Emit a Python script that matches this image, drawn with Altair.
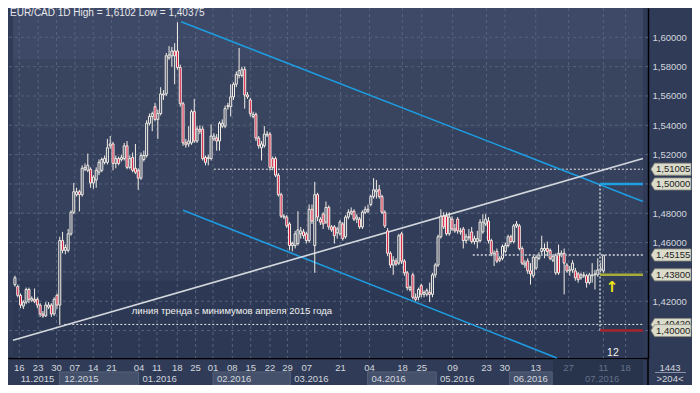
import altair as alt
import pandas as pd

# ---------------- data: EUR/CAD daily candles ----------------
opens = [
    1.4313, 1.4300, 1.4240, 1.4167, 1.4194, 1.4280, 1.4207, 1.4213, 1.4213, 1.4174,
    1.4113, 1.4100, 1.4160, 1.4174, 1.4113, 1.4240, 1.4174, 1.4614, 1.4547, 1.4547,
    1.4660, 1.4807, 1.4927, 1.4947, 1.4927, 1.5100, 1.5093, 1.5100, 1.5007, 1.5027,
    1.5080, 1.5093, 1.5147, 1.5147, 1.5260, 1.5273, 1.5140, 1.5173, 1.5167, 1.5173,
    1.5260, 1.5113, 1.5180, 1.5107, 1.5093, 1.5040, 1.5167, 1.5194, 1.5414, 1.5460,
    1.5527, 1.5440, 1.5480, 1.5607, 1.5614, 1.5860, 1.5874, 1.5907, 1.5907, 1.5794,
    1.5547, 1.5280, 1.5273, 1.5280, 1.5493, 1.5293, 1.5374, 1.5374, 1.5180, 1.5173,
    1.5173, 1.5307, 1.5313, 1.5293, 1.5394, 1.5394, 1.5527, 1.5527, 1.5594, 1.5680,
    1.5740, 1.5740, 1.5780, 1.5607, 1.5573, 1.5460, 1.5474, 1.5313, 1.5247, 1.5260,
    1.5334, 1.5340, 1.5173, 1.5173, 1.5060, 1.4927, 1.4774, 1.4774, 1.4727, 1.4580,
    1.4580, 1.4594, 1.4660, 1.4673, 1.4660, 1.4614, 1.4827, 1.4580, 1.4927, 1.4760,
    1.4794, 1.4740, 1.4840, 1.4707, 1.4707, 1.4667, 1.4660, 1.4727, 1.4640, 1.4774,
    1.4800, 1.4814, 1.4760, 1.4760, 1.4707, 1.4807, 1.4814, 1.4860, 1.4914, 1.4947,
    1.4960, 1.4914, 1.4807, 1.4680, 1.4527, 1.4447, 1.4474, 1.4460, 1.4660, 1.4474,
    1.4394, 1.4280, 1.4380, 1.4227, 1.4227, 1.4307, 1.4247, 1.4247, 1.4260, 1.4247,
    1.4380, 1.4447, 1.4640, 1.4780, 1.4780, 1.4660, 1.4760, 1.4693, 1.4760, 1.4680,
    1.4693, 1.4614, 1.4640, 1.4673, 1.4607, 1.4607, 1.4614, 1.4673, 1.4727, 1.4747,
    1.4614, 1.4514, 1.4540, 1.4480, 1.4493, 1.4540, 1.4580, 1.4640, 1.4607, 1.4714,
    1.4714, 1.4560, 1.4447, 1.4474, 1.4407, 1.4374, 1.4427, 1.4493, 1.4540, 1.4547,
    1.4560, 1.4547, 1.4480, 1.4394, 1.4527, 1.4514, 1.4527, 1.4447, 1.4407, 1.4414,
    1.4407, 1.4387, 1.4360, 1.4374, 1.4374, 1.4327, 1.4374, 1.4380, 1.4380, 1.4414,
    1.4407,
]
highs = [
    1.4374, 1.4313, 1.4253, 1.4207, 1.4293, 1.4293, 1.4233, 1.4287, 1.4227, 1.4187,
    1.4133, 1.4194, 1.4194, 1.4187, 1.4227, 1.4253, 1.4640, 1.4673, 1.4587, 1.4693,
    1.4820, 1.5007, 1.4974, 1.4960, 1.5127, 1.5140, 1.5207, 1.5113, 1.5060, 1.5113,
    1.5167, 1.5180, 1.5194, 1.5307, 1.5327, 1.5287, 1.5194, 1.5187, 1.5200, 1.5280,
    1.5293, 1.5194, 1.5214, 1.5273, 1.5107, 1.5214, 1.5227, 1.5434, 1.5480, 1.5493,
    1.5553, 1.5507, 1.5660, 1.5640, 1.5893, 1.5940, 1.5934, 1.5960, 1.6102, 1.5814,
    1.5560, 1.5307, 1.5394, 1.5507, 1.5580, 1.5394, 1.5400, 1.5394, 1.5194, 1.5200,
    1.5407, 1.5347, 1.5340, 1.5427, 1.5440, 1.5534, 1.5553, 1.5680, 1.5693, 1.5767,
    1.5927, 1.5800, 1.5800, 1.5627, 1.5587, 1.5493, 1.5487, 1.5327, 1.5293, 1.5394,
    1.5360, 1.5354, 1.5187, 1.5187, 1.5074, 1.4940, 1.4794, 1.4787, 1.4740, 1.4607,
    1.4680, 1.4814, 1.4707, 1.4693, 1.4673, 1.4860, 1.4860, 1.5014, 1.4940, 1.4774,
    1.4807, 1.4880, 1.4854, 1.4720, 1.4720, 1.4707, 1.4754, 1.4740, 1.4787, 1.4827,
    1.4840, 1.4827, 1.4794, 1.4774, 1.4820, 1.4847, 1.4860, 1.4927, 1.5040, 1.5027,
    1.4994, 1.4927, 1.4820, 1.4700, 1.4540, 1.4507, 1.4493, 1.4660, 1.4673, 1.4487,
    1.4407, 1.4307, 1.4394, 1.4253, 1.4293, 1.4320, 1.4274, 1.4287, 1.4327, 1.4394,
    1.4460, 1.4654, 1.4827, 1.4807, 1.4807, 1.4807, 1.4780, 1.4727, 1.4774, 1.4700,
    1.4707, 1.4660, 1.4693, 1.4707, 1.4647, 1.4680, 1.4760, 1.4794, 1.4794, 1.4774,
    1.4627, 1.4547, 1.4560, 1.4507, 1.4587, 1.4600, 1.4654, 1.4654, 1.4727, 1.4747,
    1.4727, 1.4574, 1.4480, 1.4493, 1.4460, 1.4514, 1.4514, 1.4534, 1.4647, 1.4594,
    1.4607, 1.4560, 1.4520, 1.4527, 1.4587, 1.4547, 1.4560, 1.4460, 1.4440, 1.4480,
    1.4427, 1.4400, 1.4394, 1.4400, 1.4387, 1.4394, 1.4460, 1.4414, 1.4493, 1.4460,
    1.4516,
]
lows = [
    1.4300, 1.4227, 1.4153, 1.4147, 1.4180, 1.4187, 1.4194, 1.4187, 1.4153, 1.4093,
    1.4087, 1.4093, 1.4147, 1.4093, 1.4100, 1.4147, 1.4038, 1.4527, 1.4520, 1.4533,
    1.4647, 1.4794, 1.4914, 1.4813, 1.4914, 1.5087, 1.5080, 1.4974, 1.4967, 1.4974,
    1.5060, 1.5080, 1.5133, 1.5133, 1.5240, 1.5093, 1.5107, 1.5127, 1.5153, 1.5160,
    1.5100, 1.5100, 1.5080, 1.5067, 1.4960, 1.5027, 1.5153, 1.5180, 1.5400, 1.5360,
    1.5427, 1.5307, 1.5467, 1.5573, 1.5600, 1.5847, 1.5800, 1.5680, 1.5780, 1.5527,
    1.5260, 1.5247, 1.5253, 1.5267, 1.5280, 1.5280, 1.5340, 1.5160, 1.5127, 1.5127,
    1.5160, 1.5293, 1.5227, 1.5227, 1.5380, 1.5380, 1.5507, 1.5460, 1.5573, 1.5660,
    1.5720, 1.5727, 1.5514, 1.5580, 1.5460, 1.5447, 1.5293, 1.5240, 1.5160, 1.5247,
    1.5320, 1.5093, 1.5093, 1.5047, 1.4914, 1.4767, 1.4760, 1.4700, 1.4547, 1.4540,
    1.4560, 1.4580, 1.4627, 1.4627, 1.4594, 1.4600, 1.4727, 1.4394, 1.4747, 1.4720,
    1.4693, 1.4727, 1.4687, 1.4673, 1.4594, 1.4627, 1.4647, 1.4614, 1.4627, 1.4760,
    1.4787, 1.4747, 1.4733, 1.4693, 1.4693, 1.4794, 1.4800, 1.4847, 1.4900, 1.4900,
    1.4900, 1.4794, 1.4700, 1.4507, 1.4427, 1.4380, 1.4440, 1.4447, 1.4454, 1.4374,
    1.4274, 1.4267, 1.4213, 1.4200, 1.4207, 1.4227, 1.4227, 1.4233, 1.4194, 1.4227,
    1.4360, 1.4434, 1.4627, 1.4693, 1.4647, 1.4647, 1.4680, 1.4667, 1.4660, 1.4654,
    1.4560, 1.4594, 1.4614, 1.4594, 1.4587, 1.4560, 1.4600, 1.4660, 1.4714, 1.4594,
    1.4507, 1.4440, 1.4460, 1.4467, 1.4480, 1.4527, 1.4567, 1.4594, 1.4594, 1.4700,
    1.4547, 1.4447, 1.4427, 1.4387, 1.4314, 1.4360, 1.4414, 1.4480, 1.4514, 1.4493,
    1.4507, 1.4480, 1.4467, 1.4380, 1.4380, 1.4500, 1.4247, 1.4394, 1.4374, 1.4394,
    1.4340, 1.4327, 1.4347, 1.4360, 1.4293, 1.4314, 1.4327, 1.4280, 1.4367, 1.4400,
    1.4394,
]
closes = [
    1.4360, 1.4240, 1.4174, 1.4194, 1.4280, 1.4213, 1.4220, 1.4200, 1.4174, 1.4113,
    1.4100, 1.4174, 1.4174, 1.4113, 1.4213, 1.4174, 1.4614, 1.4547, 1.4567, 1.4660,
    1.4807, 1.4947, 1.4947, 1.4927, 1.5107, 1.5113, 1.5127, 1.5007, 1.5047, 1.5093,
    1.5147, 1.5167, 1.5173, 1.5247, 1.5273, 1.5140, 1.5173, 1.5140, 1.5180, 1.5260,
    1.5113, 1.5173, 1.5093, 1.5080, 1.5040, 1.5194, 1.5194, 1.5414, 1.5460, 1.5480,
    1.5440, 1.5480, 1.5614, 1.5614, 1.5874, 1.5880, 1.5907, 1.5874, 1.5794, 1.5547,
    1.5280, 1.5267, 1.5293, 1.5493, 1.5293, 1.5374, 1.5360, 1.5173, 1.5147, 1.5180,
    1.5327, 1.5327, 1.5293, 1.5414, 1.5414, 1.5514, 1.5534, 1.5594, 1.5680, 1.5747,
    1.5773, 1.5780, 1.5607, 1.5594, 1.5480, 1.5474, 1.5313, 1.5260, 1.5273, 1.5340,
    1.5340, 1.5113, 1.5113, 1.5060, 1.4927, 1.4780, 1.4780, 1.4714, 1.4580, 1.4594,
    1.4660, 1.4687, 1.4680, 1.4647, 1.4614, 1.4827, 1.4747, 1.4927, 1.4774, 1.4740,
    1.4727, 1.4840, 1.4707, 1.4687, 1.4647, 1.4693, 1.4740, 1.4627, 1.4774, 1.4807,
    1.4814, 1.4760, 1.4774, 1.4707, 1.4807, 1.4827, 1.4827, 1.4914, 1.4960, 1.4960,
    1.4914, 1.4807, 1.4714, 1.4527, 1.4447, 1.4480, 1.4454, 1.4647, 1.4474, 1.4394,
    1.4293, 1.4293, 1.4227, 1.4213, 1.4280, 1.4247, 1.4260, 1.4274, 1.4247, 1.4380,
    1.4447, 1.4640, 1.4780, 1.4707, 1.4660, 1.4774, 1.4693, 1.4680, 1.4680, 1.4673,
    1.4614, 1.4640, 1.4634, 1.4607, 1.4627, 1.4627, 1.4740, 1.4740, 1.4760, 1.4614,
    1.4527, 1.4527, 1.4474, 1.4493, 1.4574, 1.4580, 1.4640, 1.4607, 1.4714, 1.4727,
    1.4560, 1.4460, 1.4460, 1.4407, 1.4387, 1.4500, 1.4500, 1.4514, 1.4560, 1.4560,
    1.4540, 1.4493, 1.4507, 1.4514, 1.4394, 1.4527, 1.4460, 1.4407, 1.4414, 1.4460,
    1.4360, 1.4347, 1.4380, 1.4380, 1.4327, 1.4380, 1.4380, 1.4387, 1.4414, 1.4420,
    1.4514,
]

# x axis: day-of-month labels at bar positions, month labels
day_labels = ["16", "23", "30", "07", "14", "21", "04", "11", "18", "25", "01", "08", "15",
              "22", "29", "07", "21", "04", "18", "25", "09", "23", "30", "13", "27", "11", "18"]
day_pos = [1.55, 8.28, 14.83, 21.38, 27.93, 34.48, 44.31, 50.69, 57.93, 64.48, 70.69, 77.59,
           84.14, 91.03, 97.24, 104.14, 116.21, 126.55, 138.28, 145.17, 156.21, 168.28,
           174.83, 185.86, 197.59, 210.0, 217.93]
month_labels = ["11.2015", "12.2015", "01.2016", "02.2016", "03.2016", "04.2016",
                "05.2016", "06.2016", "07.2016"]
month_pos = [2.07, 17.59, 45.52, 72.07, 99.66, 127.24, 151.72, 177.93, 203.45]
month_box_start = [15.86, 70.69, 125.86, 176.55]
month_box_end = [44.14, 98.28, 150.34, 191.72]
future_start = 192.07

# price levels
grid_levels = [1.40, 1.42, 1.44, 1.46, 1.48, 1.50, 1.52, 1.54, 1.56, 1.58, 1.60]
tag_values = [1.51005, 1.50000, 1.45155, 1.43800, 1.40420, 1.40000]
tag_texts = ["1,51005", "1,50000", "1,45155", "1,43800", "1,40420", "1,40000"]

# trend / channel lines  (bar index, price)
channel_upper = [(59.3, 1.6107), (224.14, 1.4880)]
channel_lower = [(60.0, 1.4820), (193.4, 1.3813)]
trend_line = [(-0.69, 1.3934), (224.14, 1.5174)]

XMIN, XMAX = -0.69, 224.14
YMIN, YMAX = 1.3813, 1.6200
W, H = 640, 350

FONT = "Liberation Sans"
LABEL = "#d2d6de"

# axis labels hidden where a price tag sits on top of them (as in the reference)
yaxis = alt.Axis(orient="right", values=grid_levels, title=None, ticks=False, grid=False,
                 labelExpr="(abs(datum.value-1.40)<0.001 || abs(datum.value-1.44)<0.001 || "
                           "abs(datum.value-1.50)<0.001) ? '' : "
                           "replace(format(datum.value, '.5f'), '.', ',')",
                 labelColor=LABEL, labelFont=FONT, labelFontSize=9.5, labelPadding=4,
                 domainColor="#000000", domainWidth=1.5)
xaxis = alt.Axis(title=None, labels=False, ticks=False, grid=False,
                 domainColor="#000000", domainWidth=1.5)
xs = alt.Scale(domain=[XMIN, XMAX], nice=False, zero=False)
ys = alt.Scale(domain=[YMIN, YMAX], nice=False, zero=False)


def X(f):
    return alt.X(f, type="quantitative", scale=xs, axis=xaxis)


def Y(f):
    return alt.Y(f, type="quantitative", scale=ys, axis=yaxis)


# ---------------- background bands ----------------
bands = pd.DataFrame({
    "x1": [XMIN] * 5, "x2": [XMAX] * 5,
    "y1": [1.5847, 1.5380, 1.4794, 1.4340, YMIN],
    "y2": [YMAX, 1.5847, 1.5380, 1.4794, 1.4340],
    "c": ["#3e4967", "#39445f", "#36415d", "#323d59", "#2d3954"],
})
band_layer = alt.Chart(bands).mark_rect().encode(
    x=X("x1"), x2="x2", y=Y("y1"), y2="y2", fill=alt.Fill("c:N", scale=None))

hgrid = alt.Chart(pd.DataFrame({"p": grid_levels})).mark_rule(
    color="#56627c", strokeDash=[3, 3], strokeWidth=1).encode(y=Y("p"))
vgrid = alt.Chart(pd.DataFrame({"d": day_pos})).mark_rule(
    color="#56627c", strokeDash=[3, 3], strokeWidth=1).encode(x=X("d"))

# ---------------- level lines ----------------
lv = pd.DataFrame({"x1": [71.0, 17.6], "x2": [XMAX, XMAX], "p": [1.51005, 1.4042]})
level_lines = alt.Chart(lv).mark_rule(color="#e8e8e8", strokeDash=[2, 2], strokeWidth=1).encode(
    x=X("x1"), x2="x2", y=Y("p"))
lv2 = pd.DataFrame({"x1": [163.4], "x2": [XMAX], "p": [1.45155]})
level_145 = alt.Chart(lv2).mark_rule(color="#aab0bb", strokeDash=[2, 2], strokeWidth=2).encode(
    x=X("x1"), x2="x2", y=Y("p"))
vline = alt.Chart(pd.DataFrame({"x": [208.8], "p1": [1.40], "p2": [1.50]})).mark_rule(
    color="#aab0bb", strokeDash=[2, 2], strokeWidth=2).encode(x=X("x"), y=Y("p1"), y2="p2")

seg = pd.DataFrame({"x1": [208.8] * 3, "x2": [XMAX] * 3, "p": [1.50, 1.438, 1.40],
                    "c": ["#1f9fe0", "#a7ad38", "#a3252b"]})
seg_layer = alt.Chart(seg).mark_rule(strokeWidth=2.5).encode(
    x=X("x1"), x2="x2", y=Y("p"), color=alt.Color("c:N", scale=None))


def line_df(pts, name):
    return pd.DataFrame({"x1": [pts[0][0]], "x2": [pts[1][0]], "p1": [pts[0][1]],
                         "p2": [pts[1][1]], "n": [name]})


lines = pd.concat([line_df(channel_upper, "#1d9ce0"), line_df(channel_lower, "#1d9ce0"),
                   line_df(trend_line, "#d4d7de")])
line_layer = alt.Chart(lines).mark_rule(strokeWidth=1.6).encode(
    x=X("x1"), x2="x2", y=Y("p1"), y2="p2", color=alt.Color("n:N", scale=None))

# ---------------- candles ----------------
n = len(opens)
cdf = pd.DataFrame({"i": list(range(n)), "open": opens, "high": highs, "low": lows, "close": closes})
wicks = alt.Chart(cdf).mark_rule(color="#f2eee6", strokeWidth=1).encode(
    x=X("i"), y=Y("low"), y2="high")
bodies = alt.Chart(cdf).mark_bar(size=2, stroke="#f2eee6", strokeWidth=1).encode(
    x=X("i"), y=Y("open"), y2="close",
    fill=alt.condition("datum.close >= datum.open", alt.value("#34405b"), alt.value("#d8123c")))

# ---------------- texts ----------------
title = alt.Chart(pd.DataFrame({"t": ["EUR/CAD 1D High = 1,6102 Low = 1,40375"]})).mark_text(
    align="left", baseline="middle", font=FONT, fontSize=10, color="#e8e8ec").encode(
    x=alt.value(2), y=alt.value(5), text="t:N")
trend_txt = alt.Chart(pd.DataFrame({"x": [41.7], "p": [1.4133],
                                    "t": ["линия тренда с минимумов апреля 2015 года"]})).mark_text(
    align="left", baseline="middle", font=FONT, fontSize=9.5, color="#f0f0f0").encode(
    x=X("x"), y=Y("p"), text="t:N")
arrow = alt.Chart(pd.DataFrame({"x": [213.1], "p": [1.4300], "t": ["↑"]})).mark_text(
    font="DejaVu Sans", fontSize=15, fontWeight="bold", color="#f2e414").encode(
    x=X("x"), y=Y("p"), text="t:N")
twelve = alt.Chart(pd.DataFrame({"x": [213.4], "p": [1.3848], "t": ["12"]})).mark_text(
    font=FONT, fontSize=10.5, color="#f0f0f0").encode(x=X("x"), y=Y("p"), text="t:N")

# ---------------- bottom axis panel ----------------
fut = alt.Chart(pd.DataFrame({"a": [future_start], "b": [XMAX]})).mark_rect(
    fill="#28334c").encode(x=X("a"), x2="b", y=alt.value(351), y2=alt.value(377))
boxes = alt.Chart(pd.DataFrame({"a": month_box_start, "b": month_box_end})).mark_rect(
    fill="#45516b", stroke="#56627b", strokeWidth=1).encode(
    x=X("a"), x2="b", y=alt.value(364), y2=alt.value(377))
days = pd.DataFrame({"d": day_pos, "t": day_labels})
days["fut"] = days["d"] > future_start
day_txt = alt.Chart(days).mark_text(baseline="middle", font=FONT, fontSize=9.5).encode(
    x=X("d"), y=alt.value(359.5), text="t:N",
    color=alt.condition("datum.fut", alt.value("#66718a"), alt.value(LABEL)))
months = pd.DataFrame({"d": month_pos, "t": month_labels})
months["fut"] = months["d"] > future_start
month_txt = alt.Chart(months).mark_text(align="left", baseline="middle", font=FONT,
                                        fontSize=9.5).encode(
    x=X("d"), y=alt.value(370.5), text="t:N",
    color=alt.condition("datum.fut", alt.value("#66718a"), alt.value(LABEL)))
corner = alt.Chart(pd.DataFrame({"t": ["1443", ">204<"], "yy": [359.5, 370.5]})).mark_text(
    baseline="middle", font=FONT, fontSize=9.5, color=LABEL).encode(
    x=alt.value(662), y=alt.Y("yy:Q", scale=None), text="t:N")
corner_rule = alt.Chart(pd.DataFrame({"a": [1]})).mark_rule(color="#000000", strokeWidth=1.5).encode(
    x=alt.value(640), y=alt.value(350), y2=alt.value(377))
corner_sep = alt.Chart(pd.DataFrame({"a": [1]})).mark_rule(color="#8a93a6", strokeWidth=1).encode(
    x=alt.value(647), x2=alt.value(678), y=alt.value(364.5))

# ---------------- price tags ----------------
tags = pd.DataFrame({"p": tag_values, "t": tag_texts})
tag_shape = "M-1,0L-0.82,-0.3L1,-0.3L1,0.3L-0.82,0.3Z"
tag_layers = []
for k in range(len(tag_values)):
    sub = tags.iloc[[k]]
    tag_layers.append(alt.Chart(sub).mark_point(shape=tag_shape, size=1600, filled=True,
                                                fill="#dcdccd", stroke="#8e8e80",
                                                strokeWidth=0.8, opacity=1).encode(
        x=alt.value(663), y=Y("p")))
    tag_layers.append(alt.Chart(sub).mark_text(align="left", baseline="middle", font=FONT,
                                               fontSize=9.5, color="#1b1b1b").encode(
        x=alt.value(648), y=Y("p"), text="t:N"))

chart = alt.layer(
    band_layer, hgrid, vgrid, level_lines, line_layer, wicks, bodies,
    level_145, vline, seg_layer, title, trend_txt, arrow, twelve,
    fut, boxes, day_txt, month_txt, corner, corner_rule, corner_sep, *tag_layers
).properties(
    width=W, height=H,
    autosize=alt.AutoSizeParams(type="none"),
    padding={"left": 0, "top": 0, "right": 44, "bottom": 27},
    background="#303c57",
).configure_view(stroke=None)

chart.save("out.html", embed_options={"renderer": "svg", "actions": False})
